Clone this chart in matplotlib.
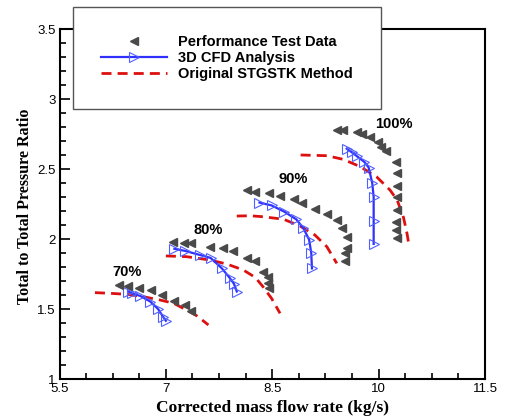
import matplotlib.pyplot as plt

# speed lines: 70%, 80%, 90%, 100%
speed_labels = ["70%", "80%", "90%", "100%"]
label_x = [6.45, 7.59, 8.79, 10.21]
label_y = [1.766, 2.064, 2.426, 2.819]

# performance test data
test_x = [
    [6.34, 6.47, 6.62, 6.79, 6.94, 7.11, 7.27, 7.36],
    [7.10, 7.25, 7.36, 7.62, 7.81, 7.94, 8.14, 8.26, 8.37, 8.44, 8.44, 8.46],
    [8.14, 8.26, 8.45, 8.61, 8.80, 8.92, 9.10, 9.27, 9.41, 9.48, 9.55, 9.55, 9.53, 9.53],
    [9.41, 9.50, 9.69, 9.77, 9.88, 9.99, 10.03, 10.10, 10.25, 10.26, 10.26, 10.26,
     10.26, 10.25, 10.25, 10.26],
]
test_y = [
    [1.668, 1.662, 1.652, 1.634, 1.602, 1.56, 1.53, 1.485],
    [1.981, 1.974, 1.969, 1.940, 1.933, 1.911, 1.861, 1.845, 1.766, 1.731, 1.683, 1.648],
    [2.350, 2.338, 2.331, 2.309, 2.284, 2.260, 2.212, 2.176, 2.136, 2.076, 2.016, 1.938,
     1.898, 1.845],
    [2.779, 2.779, 2.767, 2.748, 2.731, 2.695, 2.659, 2.629, 2.552, 2.469, 2.381, 2.302,
     2.207, 2.124, 2.064, 2.009],
]

# 3D CFD analysis
cfd_x = [
    [6.47, 6.52, 6.64, 6.78, 6.89, 6.96, 7.00],
    [7.12, 7.27, 7.48, 7.63, 7.79, 7.90, 7.96, 8.00],
    [8.32, 8.49, 8.67, 8.84, 8.94, 9.02, 9.05, 9.06],
    [9.55, 9.62, 9.69, 9.80, 9.86, 9.91, 9.93, 9.93, 9.93],
]
cfd_y = [
    [1.625, 1.612, 1.593, 1.553, 1.500, 1.445, 1.416],
    [1.930, 1.915, 1.886, 1.865, 1.790, 1.722, 1.680, 1.625],
    [2.260, 2.240, 2.195, 2.140, 2.076, 1.995, 1.900, 1.790],
    [2.645, 2.620, 2.593, 2.550, 2.510, 2.400, 2.300, 2.130, 1.965],
]

# original STGSTK method
stg_x = [
    [6.00, 6.21, 6.45, 6.68, 6.92, 7.11, 7.29, 7.44, 7.60],
    [7.00, 7.29, 7.62, 7.86, 8.09, 8.26, 8.37, 8.49, 8.61],
    [8.00, 8.19, 8.37, 8.66, 8.89, 9.10, 9.27, 9.41],
    [8.90, 9.27, 9.50, 9.74, 9.97, 10.16, 10.26, 10.35, 10.40, 10.43],
]
stg_y = [
    [1.617, 1.612, 1.605, 1.588, 1.564, 1.541, 1.493, 1.450, 1.386],
    [1.879, 1.874, 1.850, 1.821, 1.779, 1.726, 1.659, 1.576, 1.469],
    [2.164, 2.166, 2.159, 2.141, 2.093, 2.029, 1.945, 1.826],
    [2.600, 2.595, 2.569, 2.517, 2.445, 2.350, 2.280, 2.155, 2.040, 1.950],
]

xticks = [5.5, 7, 8.5, 10, 11.5]
xticklabels = ["5.5", "7", "8.5", "10", "11.5"]
yticks = [1, 1.5, 2, 2.5, 3, 3.5]
yticklabels = ["1", "1.5", "2", "2.5", "3", "3.5"]

sans = "Liberation Sans"
serif = "Liberation Serif"

fig = plt.figure(figsize=(5.07, 4.17), dpi=100)
ax = fig.add_axes([59.5 / 507, 38 / 417, 425.5 / 507, 350 / 417])

for i in range(4):
    ax.plot(stg_x[i], stg_y[i], color="#dd1010", lw=2.0, linestyle=(0, (3.6, 2.2)),
            label="Original STGSTK Method" if i == 0 else None, zorder=2)
    ax.plot(cfd_x[i], cfd_y[i], color="#3030ff", lw=1.6, marker=">", markersize=7,
            markerfacecolor="none", markeredgecolor="#5060ff", markeredgewidth=0.8,
            label="3D CFD Analysis" if i == 0 else None, zorder=3)
    ax.plot(test_x[i], test_y[i], linestyle="none", marker="<", markersize=6,
            color="#4a4a4a", label="Performance Test Data" if i == 0 else None, zorder=4)
    ax.text(label_x[i], label_y[i], speed_labels[i], ha="center", va="center",
            fontsize=10.5, fontweight="bold", family=sans)

ax.set_xlim(5.5, 11.5)
ax.set_ylim(1, 3.5)
ax.set_xticks(xticks)
ax.set_xticklabels(xticklabels, family=sans, fontsize=9.5)
ax.set_yticks(yticks)
ax.set_yticklabels(yticklabels, family=sans, fontsize=9.5)
ax.minorticks_on()
ax.tick_params(which="both", direction="in", top=False, right=False, width=1.2)
ax.tick_params(which="major", length=7, pad=3)
ax.tick_params(which="minor", length=4)
for s in ax.spines.values():
    s.set_linewidth(1.5)

ax.set_xlabel("Corrected mass flow rate (kg/s)", family=serif, fontweight="bold",
              fontsize=12.5, va="center")
ax.xaxis.set_label_coords(0.5, -0.082)
ax.set_ylabel("Total to Total Pressure Ratio", family=serif, fontweight="bold",
              fontsize=11.5, va="center", ha="center")
ax.yaxis.set_label_coords(-0.082, 0.494)

handles, labels = ax.get_legend_handles_labels()
order = [2, 1, 0]
leg = ax.legend([handles[k] for k in order], [labels[k] for k in order],
                loc="upper left", bbox_to_anchor=(73 / 507, 1 - 7 / 417),
                bbox_transform=fig.transFigure, numpoints=1, fancybox=False,
                framealpha=1, edgecolor="#555555", borderpad=1.95, borderaxespad=0,
                handlelength=4.5, handletextpad=0.75, labelspacing=0.12,
                prop={"family": sans, "weight": "bold", "size": 10.5})
leg.get_frame().set_linewidth(1.0)

fig.savefig("out.png", dpi=100)
